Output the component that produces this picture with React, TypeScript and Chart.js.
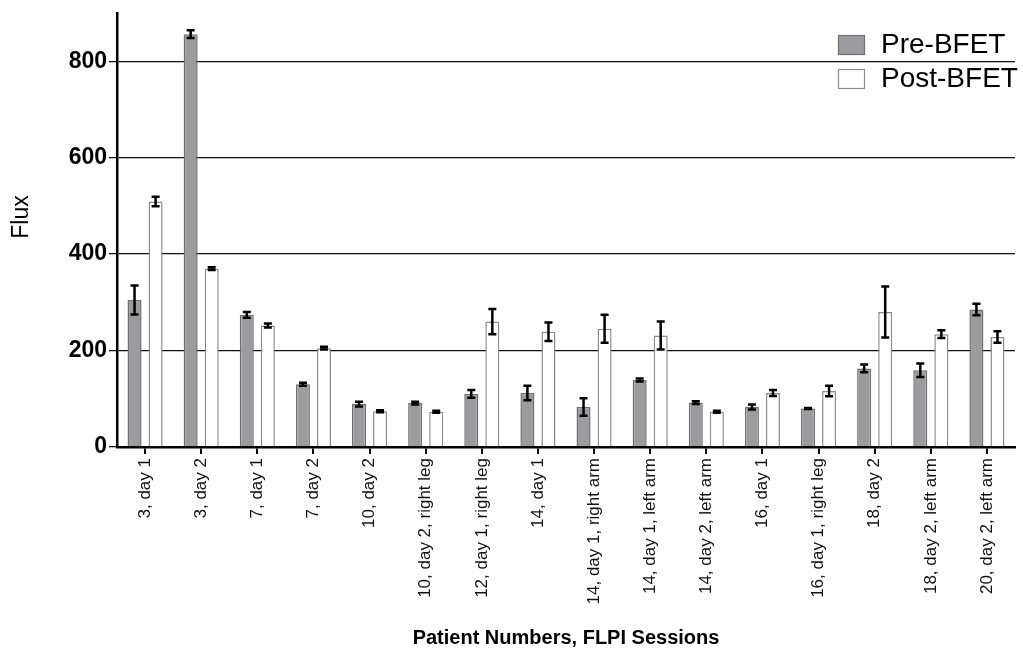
import React, { useEffect, useRef } from "react";
import { Chart, registerables } from "chart.js";

Chart.register(...registerables);

const categories = [
  "3, day 1",
  "3, day 2",
  "7, day 1",
  "7, day 2",
  "10, day 2",
  "10, day 2, right leg",
  "12, day 1, right leg",
  "14, day 1",
  "14, day 1, right arm",
  "14, day 1, left arm",
  "14, day 2, left arm",
  "16, day 1",
  "16, day 1, right leg",
  "18, day 2",
  "18, day 2, left arm",
  "20, day 2, left arm",
];
const preValues = [305, 856, 274, 130, 89, 91, 110, 112, 83, 139, 92, 83, 80, 163, 159, 285];
const preErrors = [30, 8, 6, 3, 5, 3, 8, 15, 18, 3, 3, 5, 1, 8, 14, 12];
const postValues = [509, 370, 252, 205, 74, 73, 260, 239, 245, 231, 73, 112, 116, 280, 234, 228];
const postErrors = [10, 3, 4, 3, 2, 2, 26, 19, 29, 29, 2, 6, 11, 53, 8, 12];
const yTickValues = [0, 200, 400, 600, 800];

const FONT = "'Liberation Sans', Arial, Helvetica, sans-serif";
const PRE_FILL = "#9c9ca0";
const PRE_BORDER = "#707070";
const POST_FILL = "#ffffff";
const POST_BORDER = "#8c8c8c";

const errorBarPlugin = {
  id: "errorBars",
  afterDatasetsDraw(chart: any) {
    const ctx = chart.ctx;
    const yScale = chart.scales.y;
    const errs = [preErrors, postErrors];
    chart.data.datasets.forEach((ds: any, di: number) => {
      const meta = chart.getDatasetMeta(di);
      meta.data.forEach((bar: any, i: number) => {
        const v = ds.data[i];
        const e = errs[di][i];
        const x = bar.x;
        const yHi = yScale.getPixelForValue(v + e);
        const yLo = yScale.getPixelForValue(v - e);
        ctx.save();
        ctx.strokeStyle = "#000";
        ctx.lineWidth = 2.5;
        ctx.beginPath();
        ctx.moveTo(x, yHi);
        ctx.lineTo(x, yLo);
        ctx.moveTo(x - 4, yHi);
        ctx.lineTo(x + 4, yHi);
        ctx.moveTo(x - 4, yLo);
        ctx.lineTo(x + 4, yLo);
        ctx.stroke();
        ctx.restore();
      });
    });
  },
};

const legendPlugin = {
  id: "customLegend",
  afterDraw(chart: any) {
    const ctx = chart.ctx;
    const items = [
      { label: "Pre-BFET", fill: PRE_FILL, border: PRE_BORDER, y: 35 },
      { label: "Post-BFET", fill: POST_FILL, border: POST_BORDER, y: 69 },
    ];
    ctx.save();
    items.forEach((it) => {
      ctx.fillStyle = it.fill;
      ctx.fillRect(838, it.y, 27, 20);
      ctx.strokeStyle = it.border;
      ctx.lineWidth = 1.2;
      ctx.strokeRect(838.5, it.y + 0.5, 26, 19);
      ctx.fillStyle = "#000";
      ctx.font = `28px ${FONT}`;
      ctx.textBaseline = "middle";
      ctx.textAlign = "left";
      ctx.fillText(it.label, 881, it.y + 10);
    });
    // Y axis title
    ctx.translate(22, 217);
    ctx.rotate(-Math.PI / 2);
    ctx.font = `23px ${FONT}`;
    ctx.textAlign = "center";
    ctx.textBaseline = "middle";
    ctx.fillStyle = "#000";
    ctx.fillText("Flux", 0, 0);
    ctx.restore();
  },
};

export default function App() {
  const ref = useRef<HTMLCanvasElement | null>(null);
  useEffect(() => {
    if (!ref.current) return;
    const chart = new Chart(ref.current, {
      type: "bar",
      data: {
        labels: categories,
        datasets: [
          {
            label: "Pre-BFET",
            data: preValues,
            backgroundColor: PRE_FILL,
            borderColor: PRE_BORDER,
            borderWidth: 1.5,
            borderSkipped: "bottom",
            categoryPercentage: 0.75,
            barPercentage: 0.667,
          },
          {
            label: "Post-BFET",
            data: postValues,
            backgroundColor: POST_FILL,
            borderColor: POST_BORDER,
            borderWidth: 1.5,
            borderSkipped: "bottom",
            categoryPercentage: 0.75,
            barPercentage: 0.667,
          },
        ],
      },
      options: {
        responsive: false,
        animation: false,
        layout: { padding: { top: 13, right: 8, left: 0, bottom: 0 } },
        plugins: {
          legend: { display: false },
          tooltip: { enabled: false },
        },
        scales: {
          x: {
            grid: {
              offset: false,
              drawOnChartArea: false,
              drawTicks: true,
              tickLength: 7,
              color: "#000",
              lineWidth: 2,
            },
            border: { color: "#000", width: 2.5 },
            ticks: {
              autoSkip: false,
              maxRotation: 90,
              minRotation: 90,
              padding: 4,
              color: "#111",
              font: { family: FONT, size: 17 },
            },
            title: {
              display: true,
              text: "Patient Numbers, FLPI Sessions",
              color: "#000",
              font: { family: FONT, size: 20, weight: "bold", lineHeight: 1.2 },
              padding: { top: 0, bottom: 0 },
            },
            afterFit(scale: any) {
              scale.height = 203;
              scale.paddingLeft = 0;
              scale.paddingRight = 0;
            },
          },
          y: {
            min: 0,
            max: 900,
            afterBuildTicks(scale: any) {
              scale.ticks = yTickValues.map((v) => ({ value: v }));
            },
            grid: {
              color: "#111",
              lineWidth: 1.3,
              tickLength: 8,
              drawTicks: true,
            },
            border: { color: "#000", width: 2.5 },
            ticks: {
              padding: 2,
              color: "#000",
              font: { family: FONT, size: 23, weight: "bold" },
            },
            afterFit(scale: any) {
              scale.width = 117;
              scale.paddingTop = 0;
              scale.paddingBottom = 0;
            },
          },
        },
      },
      plugins: [errorBarPlugin, legendPlugin],
    } as any);
    return () => chart.destroy();
  }, []);
  return (
    <div style={{ position: "absolute", left: 0, top: 0, width: 1023, height: 650, background: "#fff" }}>
      <canvas ref={ref} width={1023} height={650} style={{ display: "block" }} />
    </div>
  );
}
